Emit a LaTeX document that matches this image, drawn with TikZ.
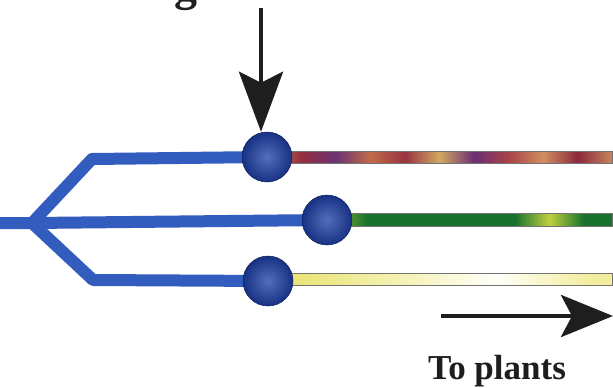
\documentclass[tikz,border=0pt]{standalone}
\usepackage{fontspec}
\setmainfont{Liberation Serif}
\usetikzlibrary{arrows.meta,calc,backgrounds}
\definecolor{chanblue}{RGB}{50,92,190}
\definecolor{ballblue}{RGB}{28,62,165}
\definecolor{inkblack}{RGB}{30,30,30}
\pgfdeclarehorizontalshading{mixA}{100bp}{%
rgb(0bp)=(0.22,0.20,0.50);
rgb(6bp)=(0.28,0.22,0.48);
rgb(10bp)=(0.52,0.18,0.25);
rgb(15bp)=(0.72,0.38,0.28);
rgb(20bp)=(0.52,0.16,0.22);
rgb(25bp)=(0.78,0.52,0.33);
rgb(30bp)=(0.58,0.18,0.24);
rgb(35bp)=(0.42,0.20,0.45);
rgb(40bp)=(0.76,0.42,0.28);
rgb(45bp)=(0.60,0.20,0.26);
rgb(50bp)=(0.82,0.66,0.38);
rgb(55bp)=(0.42,0.18,0.45);
rgb(60bp)=(0.66,0.26,0.28);
rgb(65bp)=(0.82,0.56,0.38);
rgb(70bp)=(0.55,0.16,0.24);
rgb(75bp)=(0.78,0.52,0.36);
rgb(80bp)=(0.48,0.20,0.45);
rgb(85bp)=(0.72,0.46,0.38);
rgb(90bp)=(0.58,0.18,0.28);
rgb(95bp)=(0.68,0.52,0.42);
rgb(100bp)=(0.42,0.20,0.40)}
\pgfdeclarehorizontalshading{mixB}{100bp}{%
rgb(0bp)=(0.10,0.45,0.18);
rgb(20bp)=(0.10,0.45,0.18);
rgb(26bp)=(0.55,0.70,0.20);
rgb(32bp)=(0.10,0.45,0.18);
rgb(58bp)=(0.10,0.45,0.18);
rgb(64bp)=(0.75,0.82,0.25);
rgb(70bp)=(0.10,0.45,0.18);
rgb(100bp)=(0.10,0.45,0.18)}
\pgfdeclarehorizontalshading{mixC}{100bp}{%
rgb(0bp)=(0.86,0.85,0.52);
rgb(30bp)=(0.92,0.90,0.48);
rgb(45bp)=(0.96,0.95,0.72);
rgb(58bp)=(1.00,1.00,0.98);
rgb(72bp)=(0.95,0.93,0.62);
rgb(100bp)=(0.93,0.90,0.42)}
\begin{document}
\begin{tikzpicture}[x=1pt,y=-1pt,
  chan/.style={draw=chanblue, line width=12pt, line join=round},
  ballnode/.style={circle, minimum size=50pt, inner sep=0pt, shading=radial, inner color=ballblue!75!white, outer color=ballblue!80!black, draw=ballblue!55!black, line width=0.5pt},
  mixchan/.style={draw=black!55, line width=0.8pt},
  bigarrow/.style={draw=inkblack, line width=4.5pt, -{Stealth[length=60pt,width=44pt,inset=11pt]}},
  lbl/.style={font=\bfseries\fontsize{35}{35}\selectfont, text=inkblack, inner sep=0pt}]
\useasboundingbox (0,0) rectangle (613,388);
% balls
\node[ballnode] (ballA) at (267,157) {};
\node[ballnode] (ballB) at (327,220) {};
\node[ballnode] (ballC) at (268,281) {};
% coordinates
\coordinate (inlet) at (0,223);
\coordinate (junc) at (32,223);
\coordinate (bendA) at (92,159);
\coordinate (bendC) at (93,280);
\coordinate (endA) at (612,163);
\coordinate (endB) at (612,226);
\coordinate (endC) at (612,285);
\begin{scope}[on background layer]
  \fill[white] (0,0) rectangle (613,388);
  \draw[chan] (inlet) -- (junc) -- (bendA) -- (ballA.center);
  \draw[chan] (junc) -- (ballB.center);
  \draw[chan] (junc) -- (bendC) -- (ballC.center);
  \shade[shading=mixA, mixchan] ($(ballA.center)+(0,-5.5)$) rectangle (endA);
  \shade[shading=mixB, mixchan] ($(ballB.center)+(0,-6.5)$) rectangle (endB);
  \shade[shading=mixC, mixchan] ($(ballC.center)+(0,-8)$) rectangle (endC);
\end{scope}
% arrows
\coordinate (arrtop) at (261,8);
\draw[bigarrow] (arrtop) -- (arrtop |- ballA.north);
\coordinate (arrL) at (441,316);
\coordinate (arrR) at (613,316);
\draw[bigarrow, -{Stealth[length=52pt,width=42pt,inset=11pt]}] (arrL) -- (arrR);
% texts
\node[lbl, anchor=base] (toplants) at (497,379) {To plants};
\node[lbl, font=\bfseries\fontsize{46}{46}\selectfont, anchor=base] (gfrag) at (186,0) {g};
\end{tikzpicture}
\end{document}
